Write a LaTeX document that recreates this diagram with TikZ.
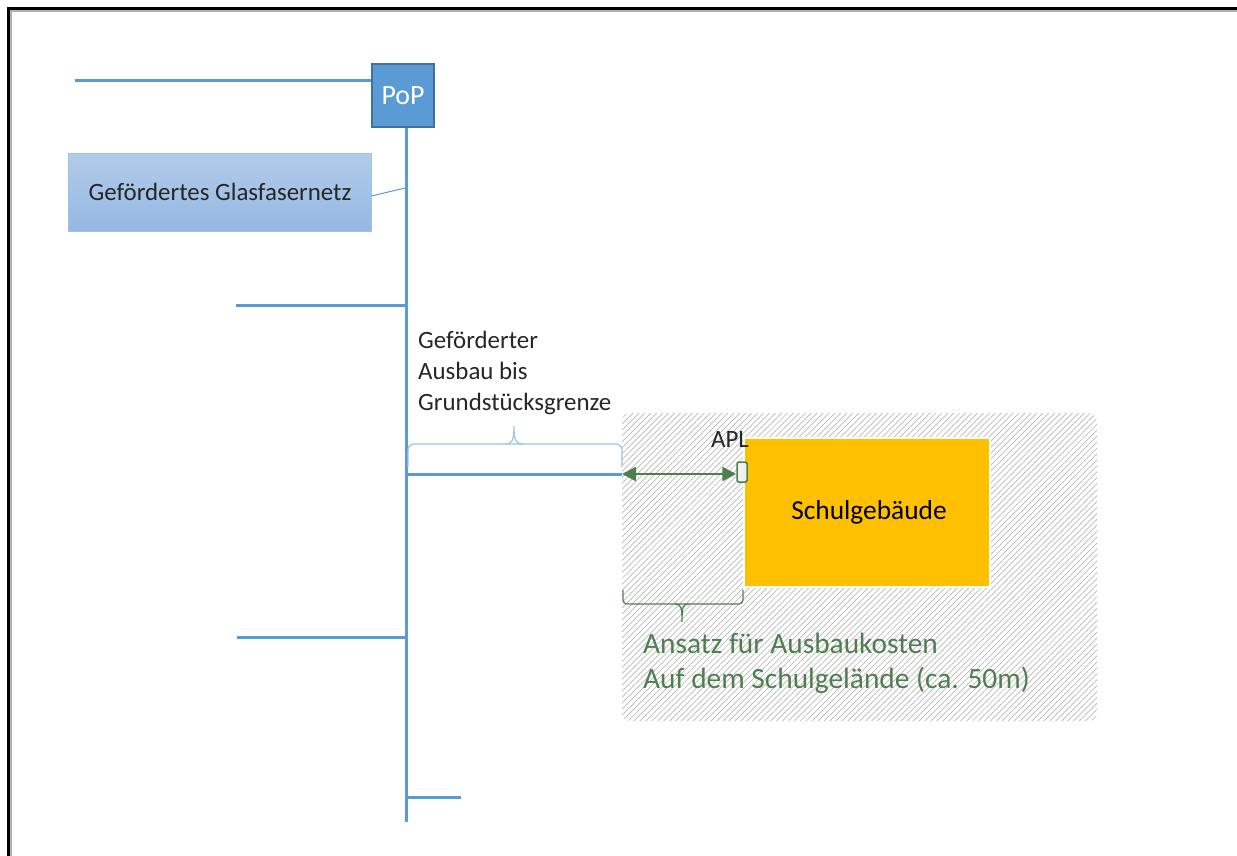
\documentclass[tikz,border=0pt]{standalone}
\usepackage{fontspec}
\setmainfont{Carlito}
\usetikzlibrary{patterns.meta,arrows.meta}
\definecolor{netblue}{HTML}{5B9BD5}
\definecolor{popedge}{HTML}{41719C}
\definecolor{boxtop}{HTML}{B2CCEA}
\definecolor{boxbot}{HTML}{94B8E2}
\definecolor{boxedge}{HTML}{9DC3E6}
\definecolor{costgreen}{HTML}{507E50}
\definecolor{school}{HTML}{FFC000}
\definecolor{bracecol}{HTML}{9DC3E6}
\tikzset{
  net/.style={draw=netblue,line width=3bp},
  thinnet/.style={draw=netblue,line width=1bp},
  lbl/.style={font=\fontsize{25}{31}\selectfont,text=black!85,inner sep=0},
  greenlbl/.style={font=\fontsize{29.5}{35}\selectfont,text=costgreen,inner sep=0},
  framebar/.style={line width=3bp,line cap=butt},
}
\begin{document}
\begin{tikzpicture}[x=1bp,y=-1bp]
\fill[white] (0,0) rectangle (1237,856);
\useasboundingbox (0,0) rectangle (1237,856);
% frame
\fill[gray!60] (10,10) rectangle (1237,11.5);
\fill[gray!60] (10,10) rectangle (11.5,856);
\fill[black] (6.5,6.5) rectangle (1237,9.5);
\fill[black] (6.5,6.5) rectangle (9.5,856);
% hatched site
\path[pattern={Lines[angle=45,distance=4.2bp,line width=0.7bp]},pattern color=gray!55,rounded corners=8bp]
  (622,413) rectangle (1097,721);
% nodes
\node[draw=popedge,fill=netblue,line width=1.5bp,minimum width=62bp,minimum height=63bp,inner sep=0,
      text=white,font=\fontsize{28}{32}\selectfont] (pop) at (403,95.5) {PoP};
\node[draw=boxedge,top color=boxtop,bottom color=boxbot,line width=1bp,minimum width=302bp,minimum height=78bp,
      inner sep=0,font=\fontsize{25}{30}\selectfont,text=black!85] (netz) at (220,192) {Gefördertes Glasfasernetz};
\node[draw=white,line width=2.5bp,fill=school,minimum width=246bp,minimum height=149bp,inner sep=0,
      font=\fontsize{27.5}{32}\selectfont,text=black] (schule) at (867,512.5) {\hspace{4bp}Schulgebäude};
\node[draw=costgreen,fill=gray!12,line width=1.5bp,minimum width=10bp,minimum height=20bp,inner sep=0,
      rounded corners=1.5bp] (apl) at (742,472) {};
\node[lbl,anchor=base] (apltxt) at (730,447) {APL};
\node[lbl,anchor=north west,align=left] (ausbau) at (418,331) {Geförderter\\Ausbau bis\\Grundstücksgrenze};
\node[greenlbl,anchor=north west,align=left] (ansatz) at (643,633) {Ansatz für Ausbaukosten\\Auf dem Schulgelände (ca. 50m)};
% coordinates
\coordinate (trunkend) at (406,822);
\coordinate (west0) at (75,80);
\coordinate (j1) at (406,305); \coordinate (w1) at (236,305);
\coordinate (j2) at (406,637); \coordinate (w2) at (237,637);
\coordinate (j3) at (406,474); \coordinate (e3) at (622,474);
\coordinate (j4) at (406,797); \coordinate (e4) at (461,797);
\coordinate (callout) at (405,188);
% lines
\draw[net] (west0) -- (pop.west |- west0);
\draw[net] (pop.south -| trunkend) -- (trunkend);
\draw[net] (w1) -- (j1);
\draw[net] (w2) -- (j2);
\draw[net] (j3) -- (e3);
\draw[net] (j4) -- (e4);
\draw[thinnet] (netz.east |- 0,196) -- (callout);
% top brace
\draw[draw=bracecol,line width=1.2bp,rounded corners=6bp] (408,467) -- (408,444) -- (622,444) -- (622,467);
\draw[draw=bracecol,line width=1.2bp] (505,444) .. controls (512,444) and (514,441) .. (514,426)
  .. controls (514,441) and (516,444) .. (523,444);
% green arrow
\draw[costgreen,line width=2.5bp,{Triangle[length=14bp,width=14bp]}-{Triangle[length=14bp,width=14bp]}] (e3) -- (apl.west |- e3);
% green brace
\draw[draw=costgreen,line width=1.2bp,rounded corners=4bp] (623,590) -- (623,604) -- (743,604) -- (743,590);
\draw[draw=costgreen,line width=1.2bp] (675,604) .. controls (681,604) and (682,607) .. (682,622)
  .. controls (682,607) and (683,604) .. (689,604);
\end{tikzpicture}
\end{document}
